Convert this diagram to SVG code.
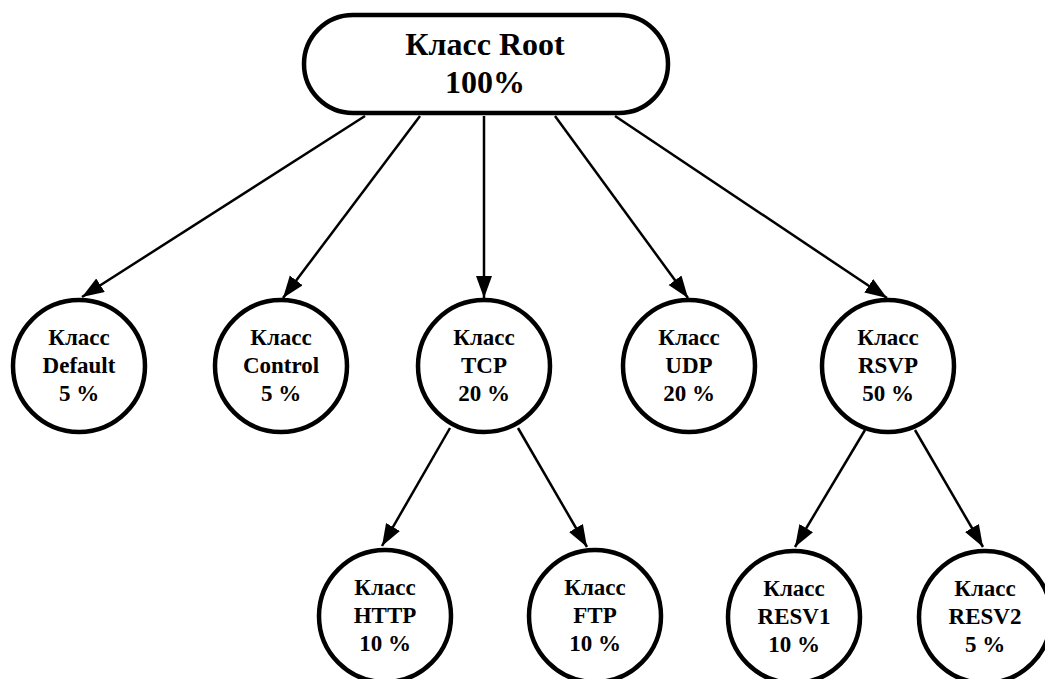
<svg xmlns="http://www.w3.org/2000/svg" width="1045" height="679" viewBox="0 0 1045 679">
<style>
.n{fill:#fff;stroke:#000;stroke-width:4.5}
.t{font-family:"Liberation Serif","Times New Roman",serif;font-weight:bold;font-size:23px;text-anchor:middle;fill:#000}
.rt{font-size:32px}
.e{stroke:#000;stroke-width:2.5;fill:none;marker-end:url(#ah)}
</style>
<defs>
<marker id="ah" markerUnits="userSpaceOnUse" markerWidth="24" markerHeight="18" refX="22" refY="8" orient="auto">
<path d="M0,0 L22,8 L0,16 z" fill="#000"/>
</marker>
</defs>
<rect width="1045" height="679" fill="#fff"/>
<g id="edges">
<line class="e" x1="365" y1="116" x2="82" y2="297"/>
<line class="e" x1="420" y1="116" x2="283" y2="298"/>
<line class="e" x1="484" y1="116" x2="484" y2="298"/>
<line class="e" x1="555" y1="116" x2="688" y2="298"/>
<line class="e" x1="615" y1="116" x2="887" y2="298"/>
<line class="e" x1="450" y1="428" x2="382" y2="546"/>
<line class="e" x1="518" y1="428" x2="587" y2="547"/>
<line class="e" x1="865" y1="430" x2="795" y2="547"/>
<line class="e" x1="915" y1="430" x2="983" y2="547"/>
</g>
<g id="root">
<rect class="n" x="304" y="15" width="364" height="98" rx="49" ry="49"/>
<text class="t rt" x="485" y="55">Класс Root</text>
<text class="t rt" x="485" y="93">100%</text>
</g>
<g id="default">
<circle class="n" cx="79" cy="366" r="66"/>
<text class="t" x="79" y="345">Класс</text>
<text class="t" x="79" y="373">Default</text>
<text class="t" x="79" y="401">5 %</text>
</g>
<g id="control">
<circle class="n" cx="281" cy="366" r="66"/>
<text class="t" x="281" y="345">Класс</text>
<text class="t" x="281" y="373">Control</text>
<text class="t" x="281" y="401">5 %</text>
</g>
<g id="tcp">
<circle class="n" cx="484" cy="366" r="66"/>
<text class="t" x="484" y="345">Класс</text>
<text class="t" x="484" y="373">TCP</text>
<text class="t" x="484" y="401">20 %</text>
</g>
<g id="udp">
<circle class="n" cx="689" cy="366" r="66"/>
<text class="t" x="689" y="345">Класс</text>
<text class="t" x="689" y="373">UDP</text>
<text class="t" x="689" y="401">20 %</text>
</g>
<g id="rsvp">
<circle class="n" cx="888" cy="366" r="66"/>
<text class="t" x="888" y="345">Класс</text>
<text class="t" x="888" y="373">RSVP</text>
<text class="t" x="888" y="401">50 %</text>
</g>
<g id="http">
<circle class="n" cx="385" cy="616" r="66"/>
<text class="t" x="385" y="595">Класс</text>
<text class="t" x="385" y="623">HTTP</text>
<text class="t" x="385" y="651">10 %</text>
</g>
<g id="ftp">
<circle class="n" cx="595" cy="616" r="66"/>
<text class="t" x="595" y="595">Класс</text>
<text class="t" x="595" y="623">FTP</text>
<text class="t" x="595" y="651">10 %</text>
</g>
<g id="resv1">
<circle class="n" cx="794" cy="617" r="66"/>
<text class="t" x="794" y="596">Класс</text>
<text class="t" x="794" y="624">RESV1</text>
<text class="t" x="794" y="652">10 %</text>
</g>
<g id="resv2">
<circle class="n" cx="985" cy="617" r="66"/>
<text class="t" x="985" y="596">Класс</text>
<text class="t" x="985" y="624">RESV2</text>
<text class="t" x="985" y="652">5 %</text>
</g>
</svg>
